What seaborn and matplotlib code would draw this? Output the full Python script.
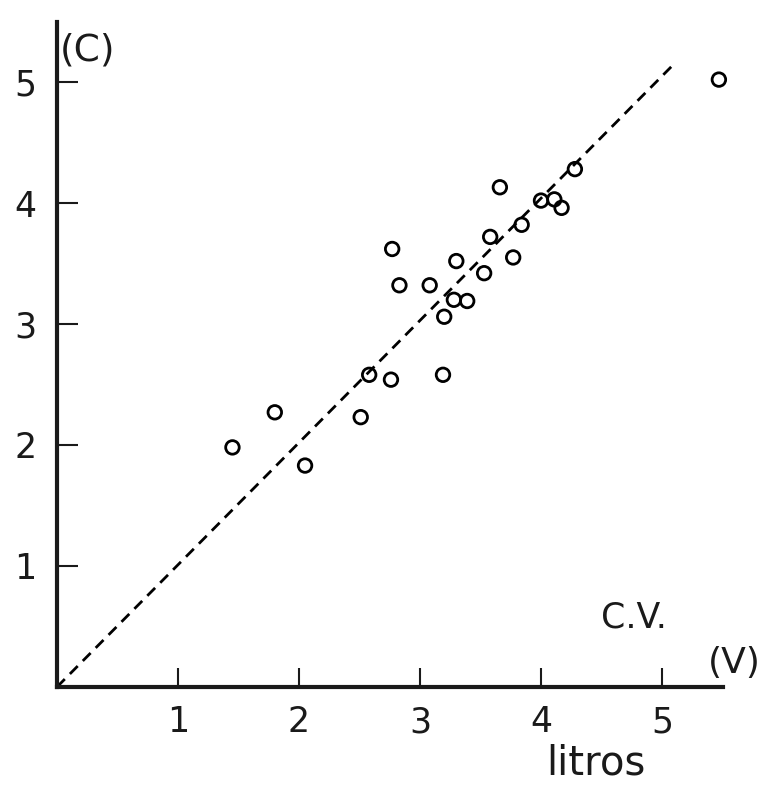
import matplotlib
matplotlib.use("Agg")
import matplotlib.pyplot as plt
import seaborn as sns
import pandas as pd

# Data
litros_v = [1.45, 1.80, 2.05, 2.51, 2.58, 2.76, 2.77, 2.83, 3.08, 3.20, 3.19,
            3.30, 3.28, 3.39, 3.53, 3.58, 3.66, 3.77, 3.84, 4.00, 4.11, 4.17,
            4.28, 5.47]
valores_c = [1.98, 2.27, 1.83, 2.23, 2.58, 2.54, 3.62, 3.32, 3.32, 3.06, 2.58,
             3.52, 3.20, 3.19, 3.42, 3.72, 4.13, 3.55, 3.82, 4.02, 4.03, 3.96,
             4.28, 5.02]
line_x = [0.0, 5.10]
line_y = [0.0, 5.15]
x_ticks = [1, 2, 3, 4, 5]
y_ticks = [1, 2, 3, 4, 5]

df = pd.DataFrame({"V": litros_v, "C": valores_c})

sns.set_style("ticks")
plt.rcParams["font.family"] = ["DejaVu Sans"]

fig = plt.figure(figsize=(7.67, 7.94), dpi=100)
ax = fig.add_axes([0.0743, 0.1348, 0.8677, 0.8381])

ax.plot(line_x, line_y, color="black", linewidth=2.0,
        linestyle=(0, (4.0, 2.6)), zorder=2)

sns.scatterplot(data=df, x="V", y="C", ax=ax, marker="o", s=95,
                facecolor="none", edgecolor="black", linewidths=2.0,
                zorder=3, clip_on=False)

ax.set_xlim(0, 5.5)
ax.set_ylim(0, 5.5)
ax.set_xticks(x_ticks)
ax.set_yticks(y_ticks)
ax.set_xticklabels([str(t) for t in x_ticks])
ax.set_yticklabels([str(t) for t in y_ticks])
ax.set_xlabel("")
ax.set_ylabel("")

for side in ["top", "right"]:
    ax.spines[side].set_visible(False)
for side in ["left", "bottom"]:
    ax.spines[side].set_linewidth(3.0)
    ax.spines[side].set_color("#1a1a1a")

ax.tick_params(axis="x", direction="in", length=14, width=1.5,
               labelsize=25, pad=13, colors="#1a1a1a")
ax.tick_params(axis="y", direction="in", length=15, width=1.5,
               labelsize=25, pad=15, colors="#1a1a1a")

ax.text(0.02, 5.26, "(C)", fontsize=27, ha="left", va="center",
        color="#1a1a1a", clip_on=False)
ax.text(5.60, 0.20, "(V)", fontsize=26, ha="center", va="center",
        color="#1a1a1a", clip_on=False)
ax.text(4.765, 0.49, "C.V.", fontsize=25, ha="center", va="baseline",
        color="#1a1a1a", clip_on=False)
ax.text(4.455, -0.727, "litros", fontsize=29, ha="center", va="baseline",
        color="#1a1a1a", clip_on=False)

fig.savefig("out.png", dpi=100, facecolor="white")
